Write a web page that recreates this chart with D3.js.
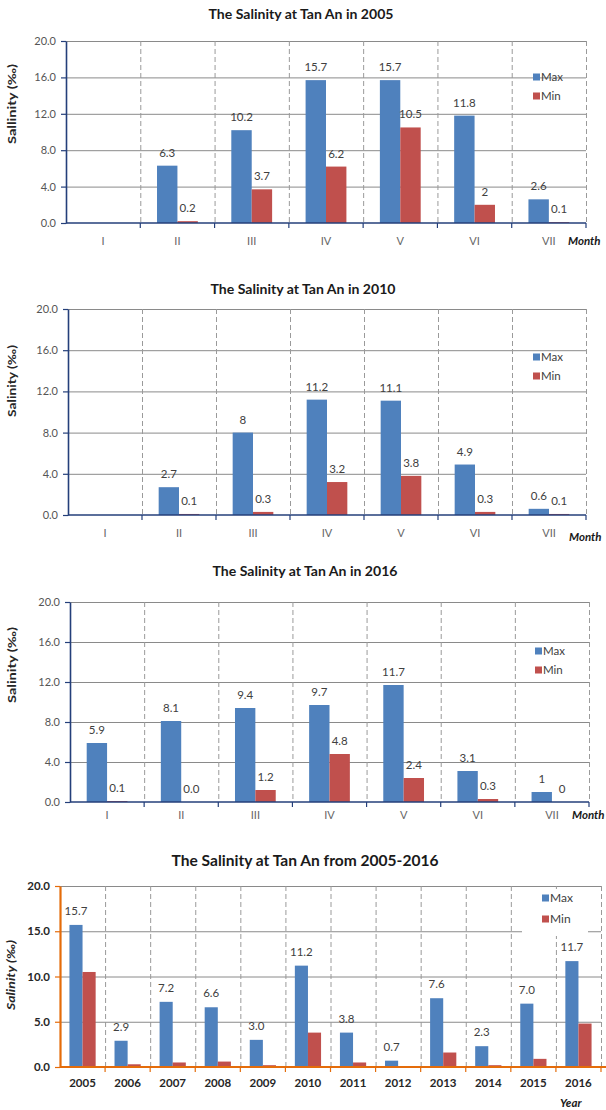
<!DOCTYPE html>
<html>
<head>
<meta charset="utf-8">
<script src="https://cdn.jsdelivr.net/npm/d3@7"></script>
<style>
  html, body { margin: 0; padding: 0; background: #fff; }
  svg { display: block; font-family: Lato, "Liberation Sans", sans-serif; }
</style>
</head>
<body>
<svg id="chart" width="606" height="1110"></svg>
<script>
// ---------------- DATA ----------------
const months = ["I", "II", "III", "IV", "V", "VI", "VII"];
const monthTicks = [0, 4, 8, 12, 16, 20];

const max2005 = [null, 6.3, 10.2, 15.7, 15.7, 11.8, 2.6];
const min2005 = [null, 0.2, 3.7, 6.2, 10.5, 2, 0.1];
const maxLabels2005 = ["", "6.3", "10.2", "15.7", "15.7", "11.8", "2.6"];
const minLabels2005 = ["", "0.2", "3.7", "6.2", "10.5", "2", "0.1"];

const max2010 = [null, 2.7, 8, 11.2, 11.1, 4.9, 0.6];
const min2010 = [null, 0.1, 0.3, 3.2, 3.8, 0.3, 0.1];
const maxLabels2010 = ["", "2.7", "8", "11.2", "11.1", "4.9", "0.6"];
const minLabels2010 = ["", "0.1", "0.3", "3.2", "3.8", "0.3", "0.1"];

const max2016 = [5.9, 8.1, 9.4, 9.7, 11.7, 3.1, 1];
const min2016 = [0.1, 0.0, 1.2, 4.8, 2.4, 0.3, 0];
const maxLabels2016 = ["5.9", "8.1", "9.4", "9.7", "11.7", "3.1", "1"];
const minLabels2016 = ["0.1", "0.0", "1.2", "4.8", "2.4", "0.3", "0"];

const years = ["2005", "2006", "2007", "2008", "2009", "2010", "2011", "2012", "2013", "2014", "2015", "2016"];
const yearTicks = [0, 5, 10, 15, 20];
const yearMax = [15.7, 2.9, 7.2, 6.6, 3.0, 11.2, 3.8, 0.7, 7.6, 2.3, 7.0, 11.7];
const yearMin = [10.5, 0.3, 0.5, 0.6, 0.2, 3.8, 0.5, 0.1, 1.6, 0.2, 0.9, 4.8];
const yearMaxLabels = ["15.7", "2.9", "7.2", "6.6", "3.0", "11.2", "3.8", "0.7", "7.6", "2.3", "7.0", "11.7"];

const seriesNames = ["Max", "Min"];
const colors = { Max: "#4f81bd", Min: "#c0504d" };

// ---------------- DRAW ----------------
const svg = d3.select("#chart");

function drawPanel(cfg) {
  const g = svg.append("g");
  const x = d3.scaleBand().domain(cfg.cats).range([cfg.left, cfg.right]).padding(0);
  const y = d3.scaleLinear().domain([0, 20]).range([cfg.bottom, cfg.top]);
  const xs = d3.scaleBand().domain(seriesNames).range([0, x.bandwidth()])
    .paddingInner(0).paddingOuter(cfg.outerPad);

  // horizontal gridlines
  g.append("g").selectAll("line").data(cfg.ticks.filter(t => t > 0)).join("line")
    .attr("x1", cfg.left).attr("x2", cfg.right)
    .attr("y1", d => y(d) + 0.5).attr("y2", d => y(d) + 0.5)
    .attr("stroke", "#8a8a8a").attr("stroke-width", 1);

  // vertical dashed separators
  g.append("g").selectAll("line").data(cfg.cats).join("line")
    .attr("x1", d => x(d) + x.bandwidth() + 0.5).attr("x2", d => x(d) + x.bandwidth() + 0.5)
    .attr("y1", cfg.top).attr("y2", cfg.bottom)
    .attr("stroke", "#9a9a9a").attr("stroke-width", 1).attr("stroke-dasharray", "5,3");

  // legend
  const lg = g.append("g");
  if (cfg.legendBox) {
    lg.append("rect").attr("x", cfg.legendX - 20).attr("y", cfg.legendY - 9)
      .attr("width", 66).attr("height", 47).attr("fill", "#fff");
  }
  seriesNames.forEach((s, i) => {
    const ly = cfg.legendY + i * cfg.legendGap;
    lg.append("rect").attr("x", cfg.legendX).attr("y", ly - 3.5).attr("width", 7).attr("height", 7)
      .attr("fill", colors[s]);
    lg.append("text").attr("x", cfg.legendX + 8).attr("y", ly).attr("dy", "0.35em")
      .attr("font-size", cfg.legendFont).attr("fill", "#404040").text(s);
  });

  // bars
  const rows = [];
  cfg.cats.forEach((c, i) => {
    seriesNames.forEach(s => {
      const v = (s === "Max" ? cfg.max : cfg.min)[i];
      const lab = (s === "Max" ? cfg.maxLabels : cfg.minLabels);
      if (v !== null && v !== undefined) rows.push({ c, s, v, label: lab ? lab[i] : "" });
    });
  });
  g.append("g").selectAll("rect").data(rows).join("rect")
    .attr("x", d => x(d.c) + xs(d.s))
    .attr("y", d => y(d.v))
    .attr("width", xs.bandwidth())
    .attr("height", d => cfg.bottom - y(d.v))
    .attr("fill", d => colors[d.s]);

  // value labels
  g.append("g").selectAll("text").data(rows.filter(d => d.label)).join("text")
    .attr("x", d => x(d.c) + xs(d.s) + xs.bandwidth() / 2)
    .attr("y", d => y(d.v) - cfg.labelGap)
    .attr("text-anchor", "middle")
    .attr("font-size", cfg.valueFont).attr("fill", "#404040")
    .text(d => d.label);

  // y axis
  const ya = g.append("g").attr("transform", `translate(${cfg.left},0)`)
    .call(d3.axisLeft(y).tickValues(cfg.ticks).tickFormat(d3.format(".1f"))
      .tickSizeInner(5).tickSizeOuter(0).tickPadding(5));
  ya.select(".domain").attr("stroke", cfg.axisColor).attr("stroke-width", cfg.axisWidth);
  ya.selectAll(".tick line").attr("stroke", cfg.axisColor).attr("stroke-width", 1.2);
  ya.selectAll(".tick text").attr("font-size", cfg.tickFont).attr("fill", cfg.tickColor)
    .attr("font-weight", cfg.tickWeight).attr("font-family", "Lato, sans-serif");

  // x axis
  const xa = g.append("g").attr("transform", `translate(0,${cfg.bottom})`)
    .call(d3.axisBottom(x).tickSize(0).tickPadding(cfg.xPad));
  xa.select(".domain").attr("stroke", cfg.axisColor).attr("stroke-width", cfg.axisWidth)
    .attr("d", `M${cfg.left},0H${cfg.axisEnd}`);
  xa.selectAll(".tick text").attr("font-size", cfg.catFont).attr("fill", cfg.catColor)
    .attr("font-weight", cfg.catWeight).attr("font-family", "Lato, sans-serif");
  // boundary tick marks
  g.append("g").selectAll("line").data(cfg.cats).join("line")
    .attr("x1", d => x(d) + x.bandwidth()).attr("x2", d => x(d) + x.bandwidth())
    .attr("y1", cfg.bottom).attr("y2", cfg.bottom + 5)
    .attr("stroke", cfg.axisColor).attr("stroke-width", 1.2);

  // title
  g.append("text").attr("x", cfg.titleX).attr("y", cfg.titleY)
    .attr("text-anchor", "middle").attr("font-weight", "bold")
    .attr("font-size", cfg.titleFont).attr("fill", "#1a1a1a")
    .attr("textLength", cfg.titleLen).attr("lengthAdjust", "spacingAndGlyphs")
    .text(cfg.title);

  // y axis title
  g.append("text")
    .attr("transform", `translate(${cfg.yTitleX},${cfg.yTitleY}) rotate(-90)`)
    .attr("text-anchor", "middle").attr("font-weight", "bold")
    .attr("font-style", cfg.yTitleItalic ? "italic" : "normal")
    .attr("font-size", 12).attr("fill", "#262626")
    .attr("textLength", cfg.yTitleLen).attr("lengthAdjust", "spacingAndGlyphs")
    .text(cfg.yTitle);

  // x axis title
  g.append("text").attr("x", cfg.xTitleX).attr("y", cfg.xTitleY)
    .attr("font-weight", "bold").attr("font-style", "italic")
    .attr("font-size", 11.5).attr("fill", "#1a1a1a").attr("dy", "0.35em")
    .text(cfg.xTitle);
}

const monthBase = {
  cats: months, ticks: monthTicks, outerPad: 0.82,
  axisColor: "#243f7a", axisWidth: 1.6,
  tickFont: 11, tickColor: "#555", tickWeight: "normal",
  catFont: 11, catColor: "#666", catWeight: "normal",
  valueFont: 11.5, labelGap: 9, legendFont: 11.5, legendGap: 19, legendBox: false,
  titleFont: 13.5, titleLen: 185, yTitleX: 16, yTitleItalic: false,
  xTitle: "Month", xPad: 14
};

drawPanel(Object.assign({}, monthBase, {
  left: 66, right: 586, top: 41, bottom: 223, axisEnd: 586,
  max: max2005, min: min2005, maxLabels: maxLabels2005, minLabels: minLabels2005,
  title: "The Salinity at Tan An in 2005", titleX: 301, titleY: 19,
  yTitle: "Sallinity (‰)", yTitleY: 104, yTitleLen: 80,
  legendX: 533, legendY: 77, xTitleX: 568, xTitleY: 241
}));

drawPanel(Object.assign({}, monthBase, {
  left: 68, right: 586, top: 309, bottom: 515, axisEnd: 586,
  max: max2010, min: min2010, maxLabels: maxLabels2010, minLabels: minLabels2010,
  title: "The Salinity at Tan An in 2010", titleX: 303, titleY: 294,
  yTitle: "Salinity (‰)", yTitleY: 381, yTitleLen: 72,
  legendX: 533, legendY: 357, xTitleX: 569, xTitleY: 537
}));

drawPanel(Object.assign({}, monthBase, {
  left: 70, right: 589, top: 602, bottom: 802, axisEnd: 589,
  max: max2016, min: min2016, maxLabels: maxLabels2016, minLabels: minLabels2016,
  title: "The Salinity at Tan An in 2016", titleX: 305, titleY: 576,
  yTitle: "Salinity (‰)", yTitleY: 665, yTitleLen: 76,
  legendX: 535, legendY: 651, xTitleX: 572, xTitleY: 815, xPad: 9
}));

drawPanel({
  cats: years, ticks: yearTicks, outerPad: 0.72,
  left: 60, right: 601, top: 886, bottom: 1067, axisEnd: 606,
  max: yearMax, min: yearMin, maxLabels: yearMaxLabels, minLabels: null,
  axisColor: "#e46c0a", axisWidth: 2.2,
  tickFont: 11.5, tickColor: "#262626", tickWeight: "bold",
  catFont: 11.5, catColor: "#262626", catWeight: "bold",
  valueFont: 11.5, labelGap: 10, legendFont: 12, legendGap: 21, legendBox: true,
  title: "The Salinity at Tan An from 2005-2016", titleX: 305, titleY: 866,
  titleFont: 15, titleLen: 267,
  yTitle: "Salinity (‰)", yTitleX: 15, yTitleY: 975, yTitleItalic: true, yTitleLen: 70,
  legendX: 542, legendY: 898,
  xTitle: "Year", xTitleX: 560, xTitleY: 1103, xPad: 12
});
</script>
</body>
</html>
